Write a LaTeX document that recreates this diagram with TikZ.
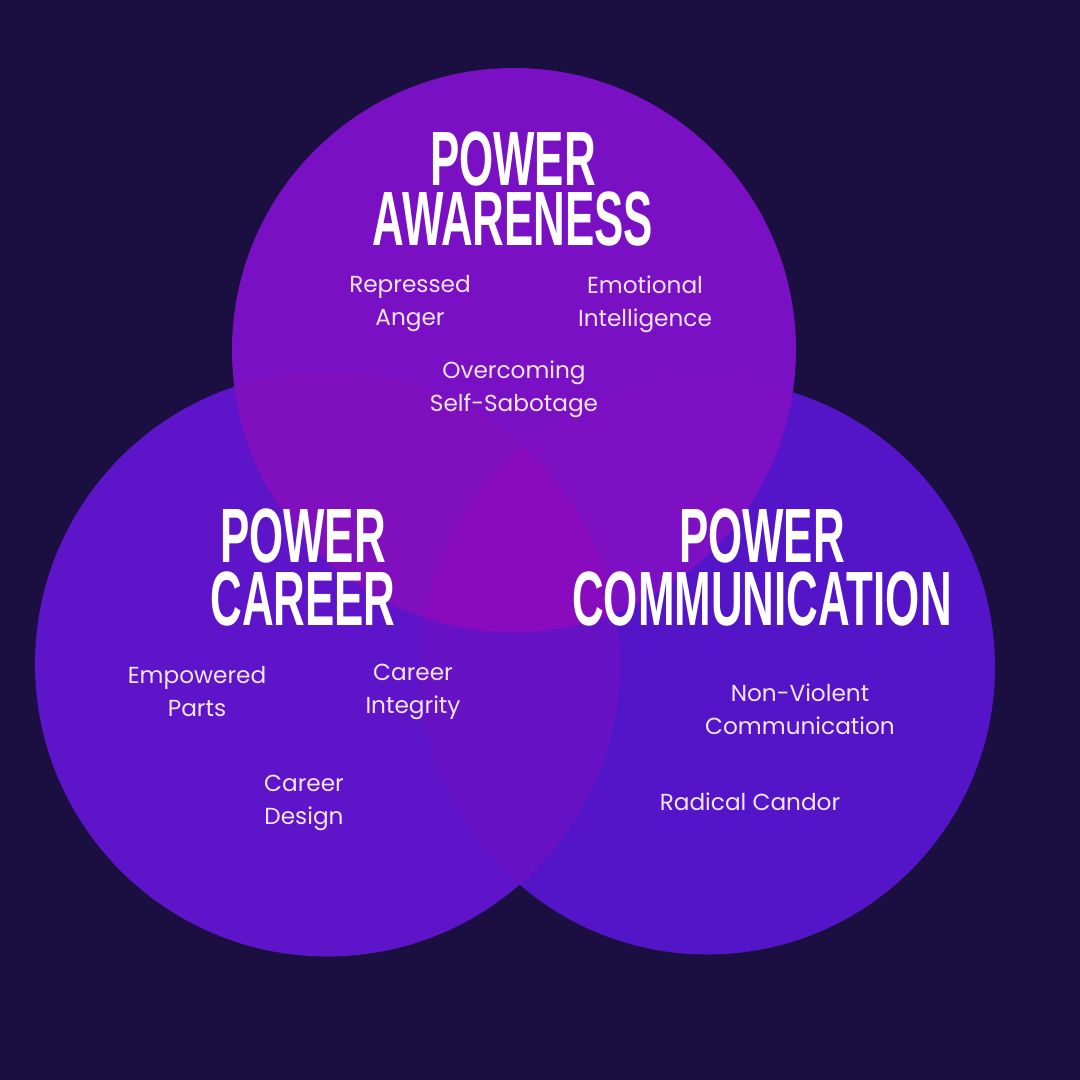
\documentclass[tikz,border=0pt]{standalone}
\usepackage{fontspec}
\setmainfont{Poppins}
\newfontfamily\titlefont{Liberation Sans}[FakeStretch=0.57]
\definecolor{bg}{HTML}{1B0F42}
\definecolor{cT}{HTML}{7A10C4}
\definecolor{cL}{HTML}{5E14C8}
\definecolor{cR}{HTML}{5414C8}
\definecolor{cTL}{HTML}{8010BE}
\definecolor{cTR}{HTML}{7C10C2}
\definecolor{cLR}{HTML}{6812C6}
\definecolor{cC}{HTML}{880CBE}
\definecolor{txt}{HTML}{F4E4FA}
\tikzset{
  title/.style={anchor=north, align=center, text=white, inner sep=0pt,
    font=\titlefont\bfseries\fontsize{77}{#1}\selectfont},
  item/.style={align=center, text=txt, inner sep=0pt, font=\fontsize{23.2}{33}\selectfont},
}
\begin{document}
\begin{tikzpicture}[x=1pt,y=-1pt]
\fill[bg] (0,0) rectangle (1080,1080);
\useasboundingbox (0,0) rectangle (1080,1080);
\coordinate (ct) at (514,350);
\coordinate (cl) at (327.5,664);
\coordinate (cr) at (707.5,667);
\def\rt{282pt}\def\rl{292.5pt}\def\rr{287.5pt}
% single circles
\fill[cR] (cr) circle[radius=\rr];
\fill[cL] (cl) circle[radius=\rl];
\begin{scope}
  \clip (cl) circle[radius=\rl];
  \fill[cLR] (cr) circle[radius=\rr];
\end{scope}
\fill[cT] (ct) circle[radius=\rt];
\begin{scope}
  \clip (ct) circle[radius=\rt];
  \fill[cTL] (cl) circle[radius=\rl];
\end{scope}
\begin{scope}
  \clip (ct) circle[radius=\rt];
  \fill[cTR] (cr) circle[radius=\rr];
\end{scope}
\begin{scope}
  \clip (ct) circle[radius=\rt];
  \clip (cl) circle[radius=\rl];
  \fill[cC] (cr) circle[radius=\rr];
\end{scope}
% titles
\node[title=60pt] (t1) at (513,131.5) {POWER\\AWARENESS};
\node[title=63pt] (t2) at (303,509) {POWER\\CAREER};
\node[title=63pt] (t3) at (762,509) {POWER\\COMMUNICATION};
% items
\node[item] (i1) at (410,304) {Repressed\\Anger};
\node[item] (i2) at (645,304) {Emotional\\Intelligence};
\node[item] (i3) at (514,389) {Overcoming\\Self-Sabotage};
\node[item] (i4) at (197,692) {Empowered\\Parts};
\node[item] (i5) at (413,692) {Career\\Integrity};
\node[item] (i6) at (304,803) {Career\\Design};
\node[item] (i7) at (800,709) {Non-Violent\\Communication};
\node[item] (i8) at (750,802) {Radical Candor};
\end{tikzpicture}
\end{document}
